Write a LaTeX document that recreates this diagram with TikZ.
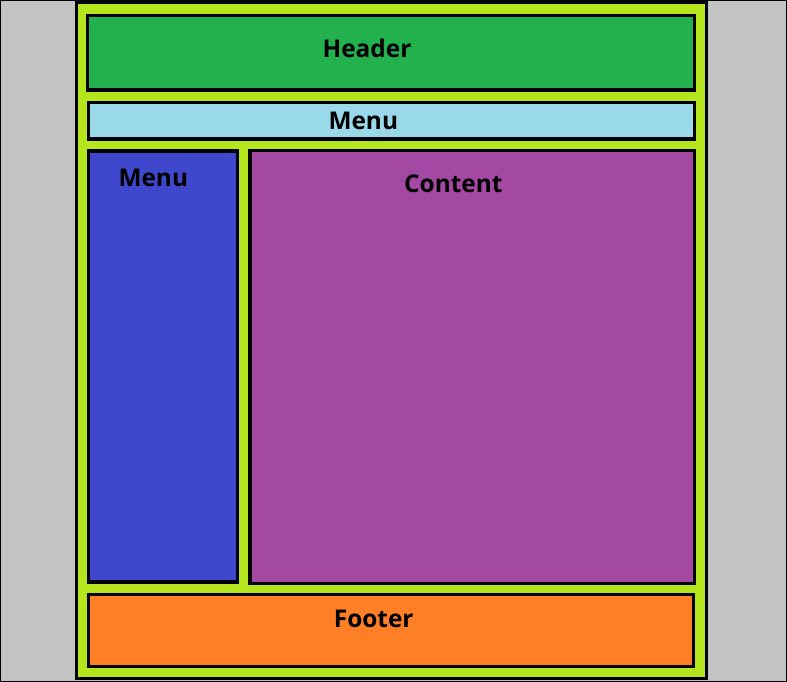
\documentclass[tikz,border=0pt]{standalone}
\usepackage{fontspec}
\setmainfont{Open Sans}
\definecolor{bggrey}{HTML}{C3C3C3}
\definecolor{lime}{HTML}{B5E61D}
\definecolor{hdrgreen}{HTML}{22B14C}
\definecolor{menublue}{HTML}{99D9EA}
\definecolor{sideblue}{HTML}{3F48CC}
\definecolor{contpurple}{HTML}{A349A4}
\definecolor{footorange}{HTML}{FF7F27}
\begin{document}
\begin{tikzpicture}[x=1pt,y=-1pt,
  panel/.style={draw=black,line width=3.3pt},
  lbl/.style={anchor=base,inner sep=0pt,font=\fontsize{24.4}{27}\selectfont\bfseries,text=black}]
\useasboundingbox (0,0) rectangle (787,682);
\fill[bggrey] (0,0) rectangle (787,682);
\draw[line width=2pt] (0,0) rectangle (787,682);
\draw[panel,fill=lime] (76.5,2) rectangle (706.7,678.3);
\draw[panel,fill=hdrgreen] (87.5,15.7) rectangle (694.5,90);
\draw[panel,fill=menublue] (88.3,102.3) rectangle (694.3,139);
\draw[panel,fill=sideblue] (88.3,151) rectangle (237.7,582);
\draw[panel,fill=contpurple] (250,150.7) rectangle (694.3,583.3);
\draw[panel,fill=footorange] (88.3,594.3) rectangle (693.7,666.7);
\node[lbl] (header) at (367,57.5) {Header};
\node[lbl] (menutop) at (363.3,129.2) {Menu};
\node[lbl] (menuside) at (153.3,186.9) {Menu};
\node[lbl] (content) at (453.3,192.5) {Content};
\node[lbl] (footer) at (373.7,627.5) {Footer};
\end{tikzpicture}
\end{document}
